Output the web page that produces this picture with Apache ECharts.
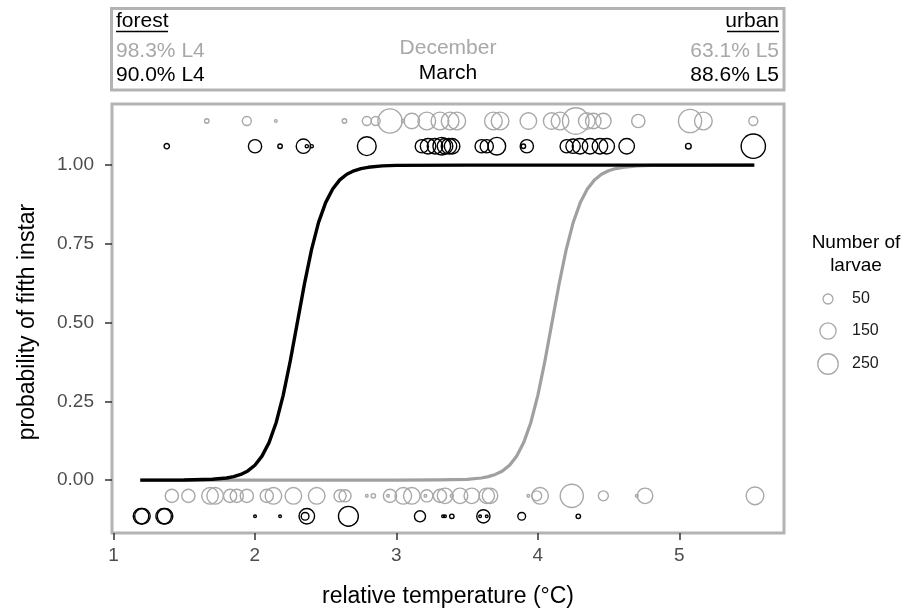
<!DOCTYPE html>
<html><head><meta charset="utf-8">
<script src="https://cdn.jsdelivr.net/npm/echarts@6/dist/echarts.min.js"></script>
<style>html,body{margin:0;padding:0;background:#fff}#c{width:907px;height:611px}</style>
</head><body><div id="c"></div>
<script>
// ---- data ----
const xTicks = [1, 2, 3, 4, 5];
const yTicks = [0, 0.25, 0.5, 0.75, 1];

// December (grey), fifth instar (L5 = 1)
const decL5Temp   = [1.660,1.943,2.148,2.633,2.791,2.854,2.955,3.047,3.109,3.215,3.308,3.380,3.427,3.686,3.733,3.933,4.098,4.157,4.268,4.346,4.392,4.463,4.710,5.076,5.170,5.523];
const decL5Larvae = [6,38,1,6,38,38,360,2,136,182,182,182,182,182,182,158,158,182,434,158,136,136,96,327,182,38];
// March (black), fifth instar
const marL5Temp   = [1.377,2.001,2.178,2.343,2.367,2.402,2.791,3.180,3.224,3.273,3.321,3.344,3.372,3.394,3.603,3.639,3.710,3.898,3.922,4.204,4.249,4.298,4.369,4.439,4.487,4.628,5.064,5.523];
const marL5Larvae = [10,96,6,115,2,2,207,96,136,136,182,136,136,136,96,96,182,6,96,96,115,136,136,136,136,136,12,360];
// December (grey), fourth instar (L4 = 0)
const decL4Temp   = [1.413,1.530,1.683,1.719,1.825,1.872,1.943,2.084,2.131,2.272,2.437,2.602,2.637,2.791,2.837,2.941,2.955,3.049,3.109,3.205,3.215,3.308,3.344,3.392,3.450,3.533,3.639,3.662,3.933,3.992,4.016,4.240,4.463,4.699,4.758,5.535];
const decL4Larvae = [96,96,158,158,96,96,96,96,158,158,158,79,79,1,6,1,96,158,158,1,79,96,136,2,136,136,136,136,1,50,158,327,50,1,136,182];
// March (black), fourth instar
const marL4Temp   = [1.195,1.205,1.355,1.365,2.001,2.178,2.355,2.367,2.661,3.167,3.330,3.344,3.392,3.592,3.615,3.639,3.886,4.286];
const marL4Larvae = [136,136,136,136,1,1,27,136,235,64,1,1,6,1,96,1,27,6];

// fitted curves
const marCurveTemp = [1.19,1.50,1.70,1.80,1.85,1.90,1.95,2.00,2.05,2.10,2.15,2.20,2.25,2.30,2.35,2.40,2.45,2.50,2.55,2.60,2.65,2.70,2.75,2.80,2.90,3.00,3.50,5.53];
const marCurveProb = [0.0000,0.0003,0.0025,0.0067,0.011,0.018,0.029,0.047,0.076,0.119,0.182,0.269,0.378,0.50,0.622,0.731,0.818,0.881,0.924,0.953,0.971,0.982,0.989,0.993,0.9975,0.999,1.0,1.0];
const decCurveTemp = [1.19,3.00,3.30,3.50,3.60,3.65,3.70,3.75,3.80,3.85,3.90,3.95,4.00,4.05,4.10,4.15,4.20,4.25,4.30,4.35,4.40,4.45,4.50,4.55,4.60,4.70,4.80,5.53];
const decCurveProb = [0.0,0.00002,0.0004,0.0025,0.0067,0.011,0.018,0.029,0.047,0.076,0.119,0.182,0.269,0.378,0.50,0.622,0.731,0.818,0.881,0.924,0.953,0.971,0.982,0.989,0.993,0.9975,0.999,1.0];

const legendCounts = [50, 150, 250];

const stripLeft  = ['forest', '98.3% L4', '90.0% L4'];
const stripMid   = ['December', 'March'];
const stripRight = ['urban', '63.1% L5', '88.6% L5'];

// ---- styling / layout ----
const FONT = '"Liberation Sans", Arial, sans-serif';
const GREY = '#a8a8a8';
const BLACK = '#000000';
const ROW = { decL5: 1.14, marL5: 1.06, decL4: -0.05, marL4: -0.115 };
const sizeFor = n => 1.5 + 1.2 * Math.sqrt(n);

function pts(temps, larvae, row) {
  return temps.map((t, i) => [t, row, larvae[i]]);
}
function scatter(name, data, color) {
  return {
    name, type: 'scatter', data,
    symbol: 'circle',
    symbolSize: v => sizeFor(v[2]),
    itemStyle: { color: 'rgba(0,0,0,0)', borderColor: color, borderWidth: 1.4, opacity: 1 },
    emphasis: { disabled: true },
    z: 3
  };
}

const chart = echarts.init(document.getElementById('c'), null, { renderer: 'canvas' });

const legendGraphics = [];
const legendY = [299, 331, 364];
legendCounts.forEach((n, i) => {
  legendGraphics.push({
    type: 'circle', shape: { cx: 828, cy: legendY[i], r: sizeFor(n) / 2 },
    style: { fill: 'none', stroke: GREY, lineWidth: 1.3 }
  });
  legendGraphics.push({
    type: 'text', x: 852, y: legendY[i],
    style: { text: String(n), font: '16px ' + FONT, fill: '#1a1a1a', textAlign: 'left', textVerticalAlign: 'middle' }
  });
});

const option = {
  animation: false,
  backgroundColor: '#ffffff',
  grid: { left: 112, right: 123, top: 104, bottom: 78, show: true, borderColor: '#b3b3b3', borderWidth: 3, backgroundColor: '#ffffff' },
  xAxis: {
    type: 'value', min: 0.99, max: 5.74,
    axisLine: { show: false, onZero: false },
    axisTick: { show: true, length: 7, lineStyle: { color: '#333', width: 1.5 }, customValues: xTicks },
    axisLabel: { customValues: xTicks, margin: 13, fontSize: 19, color: '#4d4d4d', fontFamily: FONT },
    splitLine: { show: false }
  },
  yAxis: {
    type: 'value', min: -0.168, max: 1.194,
    axisLine: { show: false, onZero: false },
    axisTick: { show: true, length: 7, lineStyle: { color: '#333', width: 1.5 }, customValues: yTicks },
    axisLabel: { customValues: yTicks, margin: 18, fontSize: 19, color: '#4d4d4d', fontFamily: FONT, formatter: v => v.toFixed(2) },
    splitLine: { show: false }
  },
  series: [
    { name: 'December fit', type: 'line', data: decCurveTemp.map((t, i) => [t, decCurveProb[i]]),
      showSymbol: false, smooth: false, lineStyle: { color: '#a0a0a0', width: 3.2, join: 'round' }, z: 2 },
    { name: 'March fit', type: 'line', data: marCurveTemp.map((t, i) => [t, marCurveProb[i]]),
      showSymbol: false, smooth: false, lineStyle: { color: BLACK, width: 3.4, join: 'round' }, z: 2 },
    scatter('Dec L5', pts(decL5Temp, decL5Larvae, ROW.decL5), GREY),
    scatter('Mar L5', pts(marL5Temp, marL5Larvae, ROW.marL5), BLACK),
    scatter('Dec L4', pts(decL4Temp, decL4Larvae, ROW.decL4), GREY),
    scatter('Mar L4', pts(marL4Temp, marL4Larvae, ROW.marL4), BLACK)
  ],
  graphic: [
    // strip box
    { type: 'rect', shape: { x: 111.5, y: 8.5, width: 672.5, height: 81.5 }, style: { fill: '#fff', stroke: '#b3b3b3', lineWidth: 3 } },
    { type: 'text', x: 116, y: 21, style: { text: stripLeft[0], font: '21px ' + FONT, fill: BLACK, textAlign: 'left', textVerticalAlign: 'middle' } },
    { type: 'line', shape: { x1: 116, y1: 31.5, x2: 168, y2: 31.5 }, style: { stroke: BLACK, lineWidth: 1.5 } },
    { type: 'text', x: 116, y: 51, style: { text: stripLeft[1], font: '21px ' + FONT, fill: GREY, textAlign: 'left', textVerticalAlign: 'middle' } },
    { type: 'text', x: 116, y: 75, style: { text: stripLeft[2], font: '21px ' + FONT, fill: BLACK, textAlign: 'left', textVerticalAlign: 'middle' } },
    { type: 'text', x: 448, y: 48, style: { text: stripMid[0], font: '21px ' + FONT, fill: GREY, textAlign: 'center', textVerticalAlign: 'middle' } },
    { type: 'text', x: 448, y: 73, style: { text: stripMid[1], font: '21px ' + FONT, fill: BLACK, textAlign: 'center', textVerticalAlign: 'middle' } },
    { type: 'text', x: 779, y: 21, style: { text: stripRight[0], font: '21px ' + FONT, fill: BLACK, textAlign: 'right', textVerticalAlign: 'middle' } },
    { type: 'line', shape: { x1: 727, y1: 31.5, x2: 779, y2: 31.5 }, style: { stroke: BLACK, lineWidth: 1.5 } },
    { type: 'text', x: 779, y: 51, style: { text: stripRight[1], font: '21px ' + FONT, fill: GREY, textAlign: 'right', textVerticalAlign: 'middle' } },
    { type: 'text', x: 779, y: 75, style: { text: stripRight[2], font: '21px ' + FONT, fill: BLACK, textAlign: 'right', textVerticalAlign: 'middle' } },
    // axis titles
    { type: 'text', x: 448, y: 597, style: { text: 'relative temperature (°C)', font: '23px ' + FONT, fill: BLACK, textAlign: 'center', textVerticalAlign: 'middle' } },
    { type: 'text', x: 28, y: 322, rotation: Math.PI / 2, style: { text: 'probability of fifth instar', font: '23px ' + FONT, fill: BLACK, textAlign: 'center', textVerticalAlign: 'middle' } },
    // legend
    { type: 'text', x: 856, y: 243, style: { text: 'Number of', font: '19px ' + FONT, fill: BLACK, textAlign: 'center', textVerticalAlign: 'middle' } },
    { type: 'text', x: 856, y: 266, style: { text: 'larvae', font: '19px ' + FONT, fill: BLACK, textAlign: 'center', textVerticalAlign: 'middle' } }
  ].concat(legendGraphics)
};
chart.setOption(option);
</script>
</body></html>
